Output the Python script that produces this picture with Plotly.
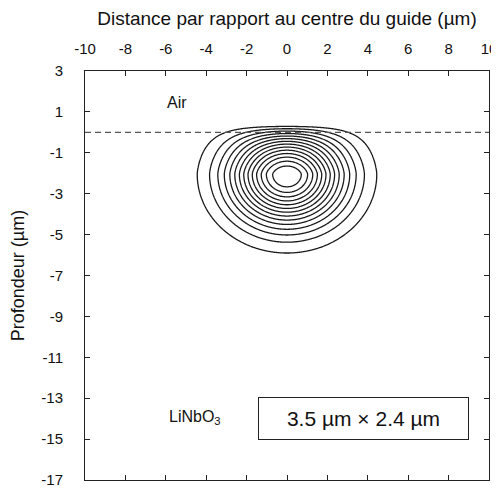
import numpy as np
import plotly.graph_objects as go

# --- axis ticks / labels ---
x_ticks = [-10, -8, -6, -4, -2, 0, 2, 4, 6, 8, 10]
x_ticktext = ["-10", "-8", "-6", "-4", "-2", "0", "2", "4", "6", "8", "10"]
y_ticks = [3, 1, -1, -3, -5, -7, -9, -11, -13, -15, -17]
y_ticktext = ["3", "1", "-1", "-3", "-5", "-7", "-9", "-11", "-13", "-15", "-17"]
x_title = "Distance par rapport au centre du guide (µm)"
y_title = "Profondeur (µm)"

# --- mode profile parameters (µm) ---
mode_center_x = 0.0
mode_center_y = -2.05
mode_halfwidth_x = 2.7      # 1/e half-width along x
surface_y = 0.4             # field vanishes just above the surface
shape_up = 1.5              # profile shape exponent above the peak
halfwidth_down = 2.34       # 1/e half-width below the peak
n_levels = 15               # contour levels k/15, k = 1..14

interface_y = 0.0
labels = {"Air": (-5.45, 1.48), "LiNbO<sub>3</sub>": (-4.55, -13.95)}
size_text = "3.5 µm × 2.4 µm"
size_pos = (3.8, -13.97)

# --- field on grid ---
xs = np.linspace(-10, 10, 401)
ys = np.linspace(-17, 3, 801)
X, Y = np.meshgrid(xs, ys)
t = np.clip((Y - mode_center_y) / (surface_y - mode_center_y), 0, 1)
prof_up = 1 - t ** shape_up
prof_down = np.exp(-((Y - mode_center_y) / halfwidth_down) ** 2)
prof_y = np.where(Y >= mode_center_y, prof_up, prof_down)
prof_x = np.exp(-((X - mode_center_x) / mode_halfwidth_x) ** 2)
Z = prof_x * prof_y

line_col = "#1a1a1a"
fig = go.Figure()
fig.add_trace(go.Contour(
    x=xs, y=ys, z=Z,
    contours=dict(start=1 / n_levels, end=(n_levels - 1) / n_levels + 1e-6,
                  size=1 / n_levels, coloring="lines"),
    colorscale=[[0, line_col], [1, line_col]],
    line=dict(width=1.3),
    showscale=False, hoverinfo="skip",
))
fig.add_trace(go.Scatter(
    x=[-10, 10], y=[interface_y, interface_y], mode="lines",
    line=dict(color="#555555", width=1.3, dash="6px,4px"),
    hoverinfo="skip", showlegend=False,
))

for txt, (lx, ly) in labels.items():
    fig.add_annotation(x=lx, y=ly, text=txt, showarrow=False,
                       font=dict(size=16, color="#111"))
fig.add_annotation(x=size_pos[0], y=size_pos[1], text=size_text, showarrow=False,
                   font=dict(size=21, color="#111"), bordercolor="#222",
                   borderwidth=1, borderpad=0, width=209, height=41,
                   bgcolor="white")

font_family = "Liberation Sans, Arial, Helvetica, sans-serif"
# the page adds an 8 px body margin, so the figure is sized to fit the window
fig.update_layout(
    width=491, height=480,
    margin=dict(l=77, r=10, t=63, b=8),
    paper_bgcolor="white", plot_bgcolor="white",
    font=dict(family=font_family, color="#111", size=15),
    showlegend=False,
)
fig.update_xaxes(
    range=[-10, 10], side="top", tickvals=x_ticks, ticktext=x_ticktext,
    ticks="inside", ticklen=5, tickfont=dict(size=15),
    tickcolor="#222", showline=True, linecolor="#222", linewidth=1,
    mirror="ticks", showgrid=False, zeroline=False, automargin=False,
    ticklabelstandoff=10, ticklabeloverflow="allow",
    title=dict(text=x_title, font=dict(size=19), standoff=13),
)
fig.update_yaxes(
    range=[-17, 3], tickvals=y_ticks, ticktext=y_ticktext,
    ticks="inside", ticklen=5, tickfont=dict(size=15),
    tickcolor="#222", showline=True, linecolor="#222", linewidth=1,
    mirror="ticks", showgrid=False, zeroline=False, automargin=False,
    ticklabelstandoff=18, ticklabeloverflow="allow",
    title=dict(text=y_title, font=dict(size=18), standoff=13),
)

fig.write_html("out.html")
